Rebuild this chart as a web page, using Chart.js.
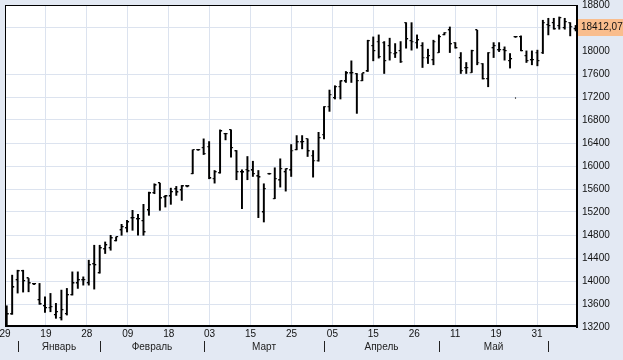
<!DOCTYPE html>
<html>
<head>
<meta charset="utf-8">
<script src="https://cdn.jsdelivr.net/npm/chart.js@4.4.1/dist/chart.umd.min.js"></script>
<style>
  html, body { margin: 0; padding: 0; background: #e3e9f3; }
  canvas { display: block; }
</style>
</head>
<body>
<canvas id="chart" width="623" height="360"></canvas>
<script>
// daily OHLC, one entry per trading day
const opens = [13552, 13420, 14015, 14171, 14044, 13946, 13668, 13564, 13535, 13408,
  13356, 13425, 13755, 13958, 14015, 13963, 14292, 14136, 14552, 14570,
  14696, 14882, 14917, 15090, 15073, 15043, 15229, 15529, 15702, 15454,
  15471, 15593, 15575, 15645, 15865, 16281, 16316, 16338, 15778, 15875,
  16558, 16628, 16257, 15893, 15934, 15922, 15818, 15194, 15865, 15431,
  15749, 15893, 15922, 16281, 16413, 16472, 16182, 16095, 16546, 17032,
  17182, 17378, 17470, 17609, 17604, 17482, 17644, 18089, 18164, 18146,
  18089, 17956, 18002, 18493, 18176, 18146, 18089, 17886, 17841, 17973,
  18280, 18361, 18146, 17876, 17703, 17626, 18361, 17782, 17512, 18049,
  18015, 18015, 17829, 18245, 18245, 17916, 17841, 17973, 17973, 18453,
  18488, 18436, 18401, 18493, 18379];
const highs = [13569, 14102, 14188, 14188, 14044, 13955, 13958, 13725, 13784, 13611,
  13842, 13871, 14159, 14159, 14072, 14362, 14622, 14622, 14679, 14795,
  14766, 14986, 15055, 15229, 15159, 15333, 15546, 15691, 15702, 15489,
  15615, 15645, 15662, 15654, 16281, 16290, 16472, 16425, 15922, 16628,
  16569, 16628, 16269, 15934, 16165, 16083, 15922, 15691, 15874, 15969,
  16125, 15952, 16373, 16529, 16529, 16472, 16269, 16586, 17032, 17321,
  17396, 17482, 17644, 17829, 17609, 17609, 18188, 18245, 18280, 18164,
  18223, 18129, 18164, 18493, 18493, 18280, 18146, 18032, 18188, 18280,
  18320, 18418, 18146, 17973, 17800, 18015, 18361, 17782, 17973, 18146,
  18146, 18072, 17956, 18254, 18263, 18002, 18002, 18015, 18535, 18569,
  18569, 18592, 18569, 18493, 18445];
const lows = [13205, 13420, 13790, 13807, 13812, 13937, 13594, 13455, 13465, 13351,
  13321, 13408, 13755, 13871, 13928, 13928, 13859, 14136, 14478, 14535,
  14696, 14795, 14852, 14882, 14795, 14795, 15142, 15518, 15229, 15286,
  15333, 15489, 15402, 15636, 15865, 16272, 16199, 15778, 15702, 15875,
  16454, 16153, 15761, 15258, 15761, 15818, 15102, 15026, 15856, 15431,
  15633, 15563, 15818, 16281, 16298, 16165, 15806, 16083, 16472, 16950,
  17165, 17165, 17453, 17453, 16915, 17482, 17644, 17829, 17876, 17609,
  17841, 17886, 17800, 18049, 18015, 18049, 17713, 17782, 17760, 17973,
  18280, 17973, 18049, 17609, 17609, 17626, 17760, 17512, 17378, 17886,
  17990, 17841, 17703, 18236, 18002, 17800, 17760, 17742, 17956, 18280,
  18379, 18379, 18379, 18263, 18349];
const closes = [13420, 13888, 14171, 13998, 13958, 13946, 13594, 13530, 13552, 13460,
  13495, 13755, 13958, 14015, 14020, 14275, 14275, 14570, 14622, 14743,
  14766, 14939, 15021, 15095, 15078, 14847, 15523, 15662, 15437, 15471,
  15546, 15541, 15645, 15645, 16281, 16281, 16212, 15783, 15893, 16603,
  16558, 16316, 15893, 15888, 15905, 15865, 15801, 15605, 15865, 15778,
  15952, 15945, 16269, 16413, 16418, 16257, 16095, 16489, 17032, 17240,
  17378, 17470, 17609, 17615, 17482, 17609, 18176, 18002, 17898, 17829,
  17973, 17960, 17817, 18205, 18164, 18188, 17886, 17916, 18164, 18245,
  18320, 18119, 18049, 17656, 17708, 18002, 17800, 17512, 17973, 18089,
  18020, 18002, 17859, 18245, 18002, 17829, 17845, 17829, 18493, 18436,
  18379, 18575, 18505, 18424, 18412.07];
// lone print far below the bar on that day
const strayPrints = [{ bar: 93, price: 17182 }];

const dateLabels = ['29', '19', '28', '09', '18', '03', '15', '25', '05', '15', '26', '11', '19', '31'];
const monthNames = ['Январь', 'Февраль', 'Март', 'Апрель', 'Май'];
const monthStarts = [2, 17, 36, 58, 79, 99];

const xMin = -0.31;
const xMax = 104.24;
const tickStep = 7.48;
const bgColor = '#e3e9f3';
const gridColor = '#dce3ef';
const fontFamily = '"Liberation Sans", Arial, sans-serif';

function tickMark(side) {
    const c = document.createElement('canvas');
    c.width = 6;
    c.height = 2;
    const g = c.getContext('2d');
    g.fillStyle = '#000';
    g.fillRect(side === 'left' ? 1 : 3, 0, 2, 1.2);
    return c;
}

const framePlugin = {
    id: 'frame',
    beforeDraw(chart) {
        const { ctx, chartArea: a } = chart;
        ctx.save();
        ctx.fillStyle = bgColor;
        ctx.fillRect(0, 0, chart.width, chart.height);
        ctx.fillStyle = '#fff';
        ctx.fillRect(a.left, a.top, a.right - a.left, a.bottom - a.top);
        ctx.restore();
    },
    afterDraw(chart) {
        const { ctx, chartArea: a } = chart;
        const xs = chart.scales.x;
        const ys = chart.scales.y;
        ctx.save();

        // plot frame
        ctx.fillStyle = '#000';
        ctx.fillRect(a.left, a.top, a.right - a.left, 1);
        ctx.fillRect(a.left, a.top, 1, a.bottom - a.top);
        ctx.fillRect(a.right - 1, a.top, 2, a.bottom - a.top + 1);
        ctx.fillRect(a.left, a.bottom - 2, a.right - a.left + 1, 2);

        // month band
        const seps = monthStarts.map(i => Math.round(xs.getPixelForValue(i)));
        ctx.fillStyle = '#222';
        seps.forEach(x => ctx.fillRect(x, 341, 1, 11));
        ctx.font = '10px ' + fontFamily;
        ctx.textAlign = 'center';
        ctx.textBaseline = 'middle';
        monthNames.forEach((name, i) => {
            ctx.fillText(name, (seps[i] + seps[i + 1]) / 2, 347.5);
        });

        // last price tag
        const last = closes[closes.length - 1];
        const yPix = Math.round(ys.getPixelForValue(last));
        ctx.fillStyle = '#f9bd8d';
        ctx.fillRect(a.right + 1, yPix - 8, chart.width - a.right, 17);
        ctx.fillStyle = '#111';
        ctx.textAlign = 'left';
        ctx.fillText(last.toFixed(2).replace('.', ','), a.right + 4, yPix + 0.5);

        ctx.restore();
    }
};

const axisFont = { family: fontFamily, size: 10 };

new Chart(document.getElementById('chart'), {
    type: 'bar',
    data: {
        datasets: [
            {
                type: 'bar',
                data: highs.map((h, i) => ({ x: i, y: [lows[i], h] })),
                backgroundColor: '#000',
                barThickness: 1.3,
                minBarLength: 1,
                order: 3
            },
            {
                type: 'scatter',
                data: opens.map((o, i) => ({ x: i, y: o })),
                pointStyle: tickMark('left'),
                pointRadius: 3,
                order: 2
            },
            {
                type: 'scatter',
                data: closes.map((c, i) => ({ x: i, y: c })),
                pointStyle: tickMark('right'),
                pointRadius: 3,
                order: 1
            },
            {
                type: 'scatter',
                data: strayPrints.map(p => ({ x: p.bar, y: p.price })),
                pointStyle: 'rect',
                pointRadius: 0.8,
                backgroundColor: '#000',
                borderWidth: 0,
                order: 0
            }
        ]
    },
    options: {
        responsive: false,
        animation: false,
        devicePixelRatio: 1,
        layout: { padding: { left: 5, top: 4, right: 0, bottom: 0 } },
        plugins: {
            legend: { display: false },
            tooltip: { enabled: false }
        },
        scales: {
            x: {
                type: 'linear',
                min: xMin,
                max: xMax,
                offset: false,
                border: { display: false },
                grid: { color: gridColor, drawTicks: false, offset: false },
                ticks: {
                    autoSkip: false,
                    maxRotation: 0,
                    padding: 1,
                    font: axisFont,
                    color: '#111',
                    callback: (v, i) => dateLabels[i]
                },
                afterBuildTicks: s => {
                    s.ticks = dateLabels.map((_, i) => ({ value: xMin + i * tickStep }));
                },
                afterFit: s => {
                    s.height = 33;
                    s.paddingLeft = 0;
                    s.paddingRight = 0;
                }
            },
            y: {
                position: 'right',
                min: 13200,
                max: 18800,
                border: { display: false },
                grid: {
                    drawTicks: false,
                    color: ctx => (ctx.tick && ctx.tick.value === 18000) ? 'rgba(0,0,0,0)' : gridColor
                },
                ticks: {
                    stepSize: 400,
                    padding: 5,
                    font: axisFont,
                    color: '#111',
                    callback: v => v === 18400 ? '' : String(v)
                },
                afterFit: s => {
                    s.width = 46;
                    s.paddingTop = 0;
                    s.paddingBottom = 0;
                }
            }
        }
    },
    plugins: [framePlugin]
});
</script>
</body>
</html>
